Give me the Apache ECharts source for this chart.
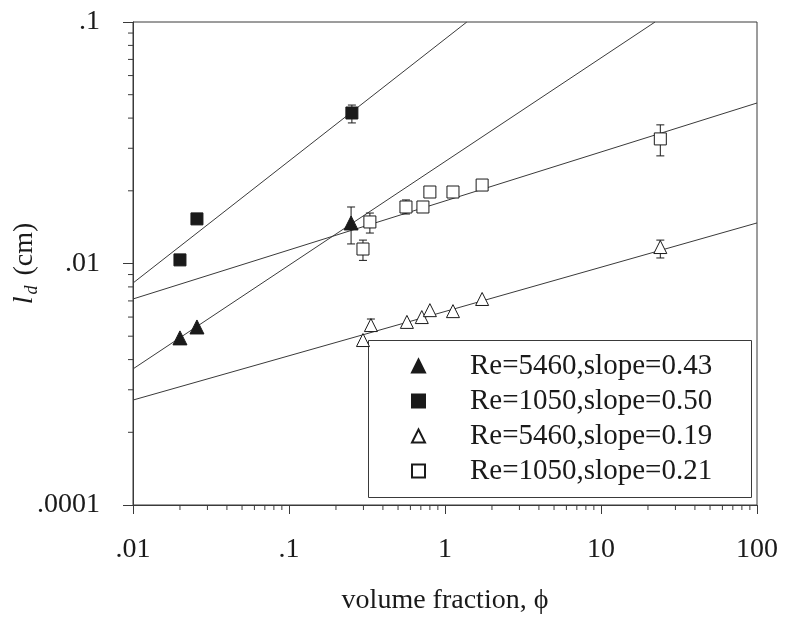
<!DOCTYPE html>
<html>
<head>
<meta charset="utf-8">
<script src="https://cdn.jsdelivr.net/npm/echarts@6/dist/echarts.min.js"></script>
<style>html,body{margin:0;padding:0;background:#fff;}#chart{width:785px;height:617px;}</style>
</head>
<body>
<div id="chart"></div>
<script>
// ---- data ----
const seriesNames = ['Re=5460,slope=0.43', 'Re=1050,slope=0.50', 'Re=5460,slope=0.19', 'Re=1050,slope=0.21'];

// filled triangles  (Re=5460, slope 0.43)
const phiFilledTri = [0.02, 0.0257, 0.25];
const ldFilledTri  = [0.00492, 0.00546, 0.01472];
// filled squares (Re=1050, slope 0.50)
const phiFilledSq = [0.02, 0.0257, 0.253];
const ldFilledSq  = [0.01035, 0.0153, 0.042];
// open triangles (Re=5460, slope 0.19)
const phiOpenTri = [0.298, 0.335, 0.57, 0.71, 0.80, 1.125, 1.73, 24];
const ldOpenTri  = [0.00482, 0.00556, 0.00573, 0.00600, 0.00641, 0.00635, 0.00713, 0.0117];
// open squares (Re=1050, slope 0.21)
const phiOpenSq = [0.298, 0.330, 0.562, 0.722, 0.80, 1.125, 1.73, 24];
const ldOpenSq  = [0.01148, 0.01486, 0.01714, 0.01714, 0.01977, 0.01977, 0.02113, 0.0328];

// error bars: x, low, high
const errX  = [0.25,    0.253,  0.335,   24,      0.298,  0.330,   0.562,   24];
const errLo = [0.01205, 0.0382, 0.00530, 0.01054, 0.0103, 0.01337, 0.01603, 0.0279];
const errHi = [0.01714, 0.0453, 0.00589, 0.0125,  0.0125, 0.01618, 0.01833, 0.0375];

// fitted lines: endpoints
const fitFilledTriX = [0.01, 22.2];  const fitFilledTriY = [0.00366, 0.1];
const fitFilledSqX  = [0.01, 1.38];  const fitFilledSqY  = [0.0083, 0.1];
const fitOpenTriX   = [0.01, 100];   const fitOpenTriY   = [0.00272, 0.01472];
const fitOpenSqX    = [0.01, 100];   const fitOpenSqY    = [0.00713, 0.0462];

// tick labels
const xTickValues = [0.01, 0.1, 1, 10, 100];
const xTickText   = ['.01', '.1', '1', '10', '100'];
const yTickValues = [0.001, 0.01, 0.1];
const yTickText   = ['.0001', '.01', '.1'];

// minor ticks (2..9 in each decade)
const xDecades = [0.01, 0.1, 1, 10];
const yDecades = [0.001, 0.01];
const minorMult = [2, 3, 4, 5, 6, 7, 8, 9];

const FONT = "'Liberation Serif', 'Times New Roman', serif";
const INK = '#1a1a1a';
const LINE = '#3a3a3a';

function pairs(xs, ys) { return xs.map((x, i) => [x, ys[i]]); }
function lookup(vals, texts) {
  return function (v) {
    for (let i = 0; i < vals.length; i++) {
      if (Math.abs(Math.log10(v) - Math.log10(vals[i])) < 1e-6) return texts[i];
    }
    return '';
  };
}
const xMinor = [], yMinor = [];
xDecades.forEach(d => minorMult.forEach(m => xMinor.push([d * m])));
yDecades.forEach(d => minorMult.forEach(m => yMinor.push([d * m])));

const chart = echarts.init(document.getElementById('chart'), null, {renderer: 'canvas'});

const fitLine = (xs, ys) => ({
  type: 'line', data: pairs(xs, ys), showSymbol: false, symbol: 'none', silent: true, clip: true,
  lineStyle: {color: LINE, width: 1}, z: 1, animation: false
});

const option = {
  animation: false,
  backgroundColor: '#fff',
  grid: {left: 133, top: 22, right: 28, bottom: 112, show: true, borderColor: LINE, borderWidth: 1,
         containLabel: false, outerBoundsMode: 'none'},
  xAxis: {
    type: 'log', logBase: 10, min: 0.01, max: 100, interval: 1,
    name: 'volume fraction, \u03d5', nameLocation: 'middle', nameGap: 82, nameMoveOverlap: false,
    nameTextStyle: {fontFamily: FONT, fontSize: 28, color: INK},
    axisLine: {lineStyle: {color: LINE, width: 1}},
    axisTick: {show: true, inside: false, length: 9, lineStyle: {color: LINE}},
    axisLabel: {formatter: lookup(xTickValues, xTickText), fontFamily: FONT, fontSize: 28, color: INK, margin: 31, showMaxLabel: true, showMinLabel: true},
    splitLine: {show: false}
  },
  yAxis: {
    type: 'log', logBase: 10, min: 0.001, max: 0.1, interval: 1,
    name: '{l|l}{d|d}{n| (cm)}', nameLocation: 'middle', nameGap: 92, nameMoveOverlap: false,
    nameTextStyle: {
      fontFamily: FONT, fontSize: 28, color: INK,
      rich: {
        l: {fontFamily: FONT, fontSize: 28, fontStyle: 'italic', color: INK, lineHeight: 32},
        d: {fontFamily: FONT, fontSize: 18, fontStyle: 'italic', color: INK, lineHeight: 8, verticalAlign: 'bottom', padding: [0, 3, 0, 2]},
        n: {fontFamily: FONT, fontSize: 28, color: INK, lineHeight: 32}
      }
    },
    axisLine: {lineStyle: {color: LINE, width: 1}},
    axisTick: {show: true, inside: false, length: 10, lineStyle: {color: LINE}},
    axisLabel: {formatter: lookup(yTickValues, yTickText), fontFamily: FONT, fontSize: 28, color: INK, margin: 33, showMaxLabel: true, showMinLabel: true},
    splitLine: {show: false}
  },
  legend: {
    orient: 'vertical', left: 411, top: 351, padding: 0,
    itemWidth: 13, itemHeight: 13, itemGap: 5,
    data: seriesNames,
    textStyle: {fontFamily: FONT, fontSize: 29, color: INK, lineHeight: 30, padding: [0, 0, 0, 40]},
    selectedMode: false
  },
  graphic: [{
    type: 'rect', left: 368, top: 340, z: 0, silent: true,
    shape: {width: 383, height: 157},
    style: {fill: '#fff', stroke: LINE, lineWidth: 1}
  }],
  series: [
    fitLine(fitFilledTriX, fitFilledTriY),
    fitLine(fitFilledSqX, fitFilledSqY),
    fitLine(fitOpenTriX, fitOpenTriY),
    fitLine(fitOpenSqX, fitOpenSqY),
    {
      type: 'custom', name: 'errorbars', z: 3, silent: true,
      data: errX.map((x, i) => [x, errLo[i], errHi[i]]),
      renderItem: function (params, api) {
        const lo = api.coord([api.value(0), api.value(1)]);
        const hi = api.coord([api.value(0), api.value(2)]);
        const w = 4;
        const st = {stroke: INK, lineWidth: 1};
        return {type: 'group', children: [
          {type: 'line', shape: {x1: lo[0], y1: lo[1], x2: hi[0], y2: hi[1]}, style: st},
          {type: 'line', shape: {x1: lo[0] - w, y1: lo[1], x2: lo[0] + w, y2: lo[1]}, style: st},
          {type: 'line', shape: {x1: hi[0] - w, y1: hi[1], x2: hi[0] + w, y2: hi[1]}, style: st}
        ]};
      }
    },
    {
      type: 'custom', name: 'xminor', z: 2, silent: true, clip: false,
      data: xMinor,
      renderItem: function (params, api) {
        const p = api.coord([api.value(0), 0.001]);
        return {type: 'line', shape: {x1: p[0], y1: p[1], x2: p[0], y2: p[1] + 5}, style: {stroke: LINE, lineWidth: 1}};
      }
    },
    {
      type: 'custom', name: 'yminor', z: 2, silent: true, clip: false,
      data: yMinor.map(v => [0.01, v[0]]),
      renderItem: function (params, api) {
        const p = api.coord([0.01, api.value(1)]);
        return {type: 'line', shape: {x1: p[0] - 5, y1: p[1], x2: p[0], y2: p[1]}, style: {stroke: LINE, lineWidth: 1}};
      }
    },
    {
      type: 'scatter', name: seriesNames[0], data: pairs(phiFilledTri, ldFilledTri),
      symbol: 'triangle', symbolSize: 14, z: 5,
      itemStyle: {color: INK, borderColor: INK, borderWidth: 1, opacity: 1}
    },
    {
      type: 'scatter', name: seriesNames[1], data: pairs(phiFilledSq, ldFilledSq),
      symbol: 'rect', symbolSize: 12, z: 5,
      itemStyle: {color: INK, borderColor: INK, borderWidth: 1, opacity: 1}
    },
    {
      type: 'scatter', name: seriesNames[2], data: pairs(phiOpenTri, ldOpenTri),
      symbol: 'triangle', symbolSize: 13, z: 5,
      itemStyle: {color: '#fff', borderColor: INK, borderWidth: 1, opacity: 1}
    },
    {
      type: 'scatter', name: seriesNames[3], data: pairs(phiOpenSq, ldOpenSq),
      symbol: 'rect', symbolSize: 12, z: 5,
      itemStyle: {color: '#fff', borderColor: INK, borderWidth: 1, opacity: 1}
    }
  ]
};
chart.setOption(option);
</script>
</body>
</html>
